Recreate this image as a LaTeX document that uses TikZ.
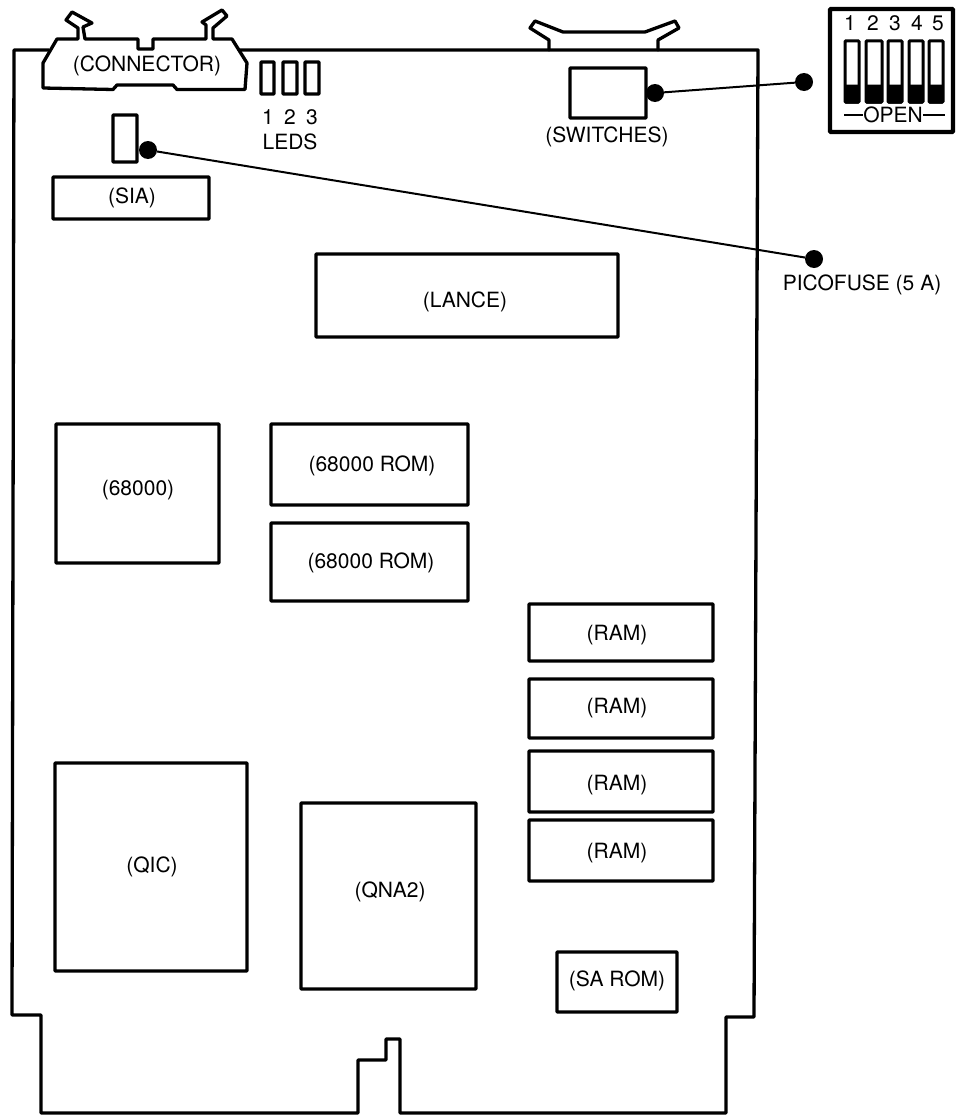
\documentclass[tikz,border=0pt]{standalone}
\usepackage{fontspec}
\setmainfont{TeX Gyre Heros}
\usetikzlibrary{calc}
\tikzset{
  outline/.style={line width=3.3pt,line join=round,line cap=round,draw=black},
  chipbox/.style={draw=black,line width=3.3pt,rectangle,inner sep=0pt,outer sep=0pt,rounded corners=0.8pt},
  lbl/.style={font=\fontsize{21}{22}\selectfont,inner sep=0pt,text=black},
  dot/.style={circle,fill=black,inner sep=0pt,outer sep=0pt,minimum size=18pt},
  lead/.style={line width=2pt,draw=black},
  slotbox/.style={draw=black,line width=3pt,rectangle,inner sep=0pt,outer sep=0pt},
  slotfill/.style={fill=black,draw=black,line width=1pt,rounded corners=0.8pt}
}
\newcommand{\chip}[6][]{%
  \pgfmathsetmacro{\cw}{#4-#2}\pgfmathsetmacro{\ch}{#5-#3}%
  \pgfmathsetmacro{\cx}{(#4+#2)/2}\pgfmathsetmacro{\cy}{(#5+#3)/2}%
  \node[chipbox,minimum width=\cw pt,minimum height=\ch pt,#1] (#6) at (\cx,\cy) {};}
\begin{document}
\begin{tikzpicture}[x=1pt,y=-1pt]
\useasboundingbox[fill=white] (0,0) rectangle (956,1116);
% board
\draw[outline] (49,50) -- (14,50) -- (12,1015) -- (41,1015) -- (41,1113) -- (358,1113)
  -- (358,1060) -- (386,1060) -- (386,1039) -- (400,1039) -- (400,1113) -- (726,1113)
  -- (726,1017) -- (754,1017) -- (758,50) -- (239,50);
% connector
\draw[outline] (43,63) -- (43,88) -- (113,89.5) -- (117,85) -- (173,85) -- (177,89.5) -- (245,89.5) -- (247,63)
  -- (232,39) -- (213,39) -- (213,28) -- (227,16) -- (222,10) -- (202,22) -- (206,25) -- (206,39)
  -- (153,39) -- (153,49) -- (138,49) -- (138,39) -- (85,39) -- (83,27) -- (92,23) -- (72,12) -- (66,20) -- (78,28) -- (78,39)
  -- (57,39) -- cycle;
% switch latch
\draw[outline] (549,50) -- (549,40) -- (530,28) -- (535,21) -- (563,32) -- (645,32) -- (675,21) -- (679,28) -- (658,40) -- (658,50);
% LEDs
\chip{261}{62}{274}{94}{led1}
\chip{283}{62}{297}{94}{led2}
\chip{305}{62}{319}{94}{led3}
% fuse and switches
\chip{113}{115}{137}{162}{fuse}
\chip{570}{68}{646}{118}{switches}
\node[dot] (fusedot) at (148,150) {};
\node[dot] (fusedotb) at (814,259) {};
\node[dot] (swdot) at (655,93) {};
\node[dot] (swdotb) at (804,82) {};
\draw[lead] (fusedot) -- (fusedotb);
\draw[lead] (swdot) -- (swdotb);
% chips
\chip{53}{177}{209}{219}{sia}
\chip{316}{254}{618}{337}{lance}
\chip{56}{424}{219}{563}{cpu}
\chip{271}{424}{468}{505}{roma}
\chip{271}{523}{468}{601}{romb}
\chip{529}{604}{713}{661}{rama}
\chip{529}{679}{713}{738}{ramb}
\chip{529}{751}{713}{812}{ramc}
\chip{529}{820}{713}{881}{ramd}
\chip{55}{763}{247}{971}{qic}
\chip{301}{803}{476}{989}{qna}
\chip{557}{952}{677}{1012}{sarom}
% DIP switch
\chip[line width=4.2pt]{830}{9}{953}{132}{dip}
\foreach \n/\a/\b in {a/845/859,b/866/882,c/888/902,d/909/923,e/929/943}{
  \chip[slotbox]{\a}{41}{\b}{102}{slot\n}
  \fill[slotfill] (\a,85) rectangle (\b,103);
}
\foreach \n/\x in {1/850,2/873,3/895,4/917,5/938}{
  \node[lbl] (dip\n) at (\x,23) {\n};
}
\node[lbl] (open) at (893,115) {OPEN};
\coordinate (oa) at (844,115);
\coordinate (ob) at (945,115);
\draw[line width=1.6pt] (oa) -- (open.west);
\draw[line width=1.6pt] (open.east) -- (ob);
% labels
\node[lbl] (tconn) at (147,66) {(CONNECTOR)};
\node[lbl] (tled1) at (268,117) {1};
\node[lbl] (tled2) at (290,117) {2};
\node[lbl] (tled3) at (312,117) {3};
\node[lbl] (tleds) at (290,142) {LEDS};
\node[lbl] (tsw) at (607,137) {(SWITCHES)};
\node[lbl] (tsia) at (132,198) {(SIA)};
\node[lbl] (tlance) at (465,302) {(LANCE)};
\node[lbl] (tfuse) at (862,285) {PICOFUSE (5 A)};
\node[lbl] (tcpu) at (138,490) {(68000)};
\node[lbl] (troma) at (372,466) {(68000 ROM)};
\node[lbl] (tromb) at (371,563) {(68000 ROM)};
\node[lbl] (trama) at (617,635) {(RAM)};
\node[lbl] (tramb) at (617,708) {(RAM)};
\node[lbl] (tramc) at (617,785) {(RAM)};
\node[lbl] (tramd) at (617,853) {(RAM)};
\node[lbl] (tqic) at (152,867) {(QIC)};
\node[lbl] (tqna) at (390,892) {(QNA2)};
\node[lbl] (tsarom) at (617,981) {(SA ROM)};
\end{tikzpicture}
\end{document}
